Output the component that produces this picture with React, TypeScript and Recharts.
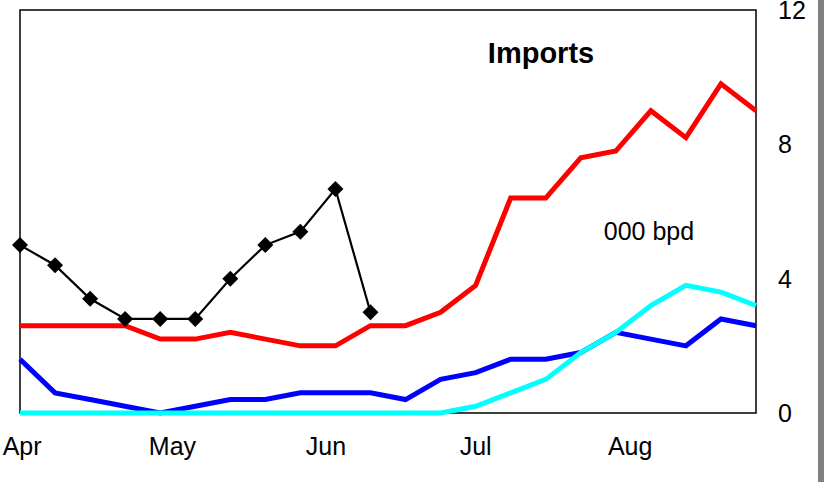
import { LineChart, Line, XAxis, YAxis, ReferenceArea } from "recharts";

const weeks = [0, 1, 2, 3, 4, 5, 6, 7, 8, 9, 10, 11, 12, 13, 14, 15, 16, 17, 18, 19, 20, 21];

const red = [2.6, 2.6, 2.6, 2.6, 2.2, 2.2, 2.4, 2.2, 2.0, 2.0, 2.6, 2.6, 3.0, 3.8, 6.4, 6.4, 7.6, 7.8, 9.0, 8.2, 9.8, 9.0];
const blue = [1.6, 0.6, 0.4, 0.2, 0.0, 0.2, 0.4, 0.4, 0.6, 0.6, 0.6, 0.4, 1.0, 1.2, 1.6, 1.6, 1.8, 2.4, 2.2, 2.0, 2.8, 2.6];
const cyan = [0, 0, 0, 0, 0, 0, 0, 0, 0, 0, 0, 0, 0, 0.2, 0.6, 1.0, 1.8, 2.4, 3.2, 3.8, 3.6, 3.2];
const black = [5.0, 4.4, 3.4, 2.8, 2.8, 2.8, 4.0, 5.0, 5.4, 6.67, 3.0];

const monthTicks = [0.06, 4.35, 8.73, 13.0, 17.41];
const monthLabels = ["Apr", "May", "Jun", "Jul", "Aug"];
const yTicks = [0, 4, 8, 12];

const data = weeks.map((w, i) => ({
  week: w,
  red: red[i],
  blue: blue[i],
  cyan: cyan[i],
  black: i < black.length ? black[i] : null,
}));

const font = "'Liberation Sans', Arial, sans-serif";
const tickStyle = { fontFamily: font, fontSize: 25, fill: "#000" };

function Diamond(props: any) {
  const { cx, cy, index } = props;
  if (cx == null || cy == null || props.value == null) return <g key={`d-${index}`} />;
  const r = 8;
  return (
    <polygon
      key={`d-${index}`}
      points={`${cx},${cy - r} ${cx + r},${cy} ${cx},${cy + r} ${cx - r},${cy}`}
      fill="#000"
    />
  );
}

export default function App() {
  return (
    <div style={{ position: "absolute", left: 0, top: 0, width: 824, height: 482, background: "#fff" }}>
      <LineChart width={818} height={482} data={data} margin={{ top: 10, right: 0, bottom: 0, left: 20 }}>
        <XAxis
          dataKey="week"
          type="number"
          domain={[0, 21]}
          ticks={monthTicks}
          interval={0}
          tickFormatter={(v: number) => monthLabels[monthTicks.indexOf(v)] ?? ""}
          tickLine={false}
          tickSize={0}
          tickMargin={24}
          height={69}
          axisLine={false}
          tick={tickStyle}
        />
        <YAxis
          orientation="right"
          domain={[0, 12]}
          ticks={yTicks}
          interval={0}
          width={62}
          tickLine={false}
          tickSize={0}
          tickMargin={22}
          axisLine={false}
          tick={{ ...tickStyle, textAnchor: "start" }}
        />
        <ReferenceArea
          x1={0}
          x2={21}
          y1={0}
          y2={12}
          fill="none"
          fillOpacity={0}
          stroke="#000"
          strokeWidth={1.5}
          ifOverflow="visible"
        />
        <Line dataKey="blue" stroke="#0000ff" strokeWidth={5} dot={false} activeDot={false} isAnimationActive={false} />
        <Line dataKey="red" stroke="#ff0000" strokeWidth={5} dot={false} activeDot={false} isAnimationActive={false} />
        <Line dataKey="cyan" stroke="#00ffff" strokeWidth={5} dot={false} activeDot={false} isAnimationActive={false} />
        <Line
          dataKey="black"
          stroke="#000"
          strokeWidth={2.2}
          dot={<Diamond />}
          activeDot={false}
          isAnimationActive={false}
        />
      </LineChart>
      <svg width={824} height={482} style={{ position: "absolute", left: 0, top: 0, pointerEvents: "none" }}>
        <text x={541} y={63} textAnchor="middle" fontFamily={font} fontSize={29} fontWeight="bold" fill="#000">
          Imports
        </text>
        <text x={649} y={240} textAnchor="middle" fontFamily={font} fontSize={25} fill="#000">
          000 bpd
        </text>
      </svg>
      <div style={{ position: "absolute", left: 818, top: 0, width: 6, height: 482, background: "#808080" }} />
    </div>
  );
}
